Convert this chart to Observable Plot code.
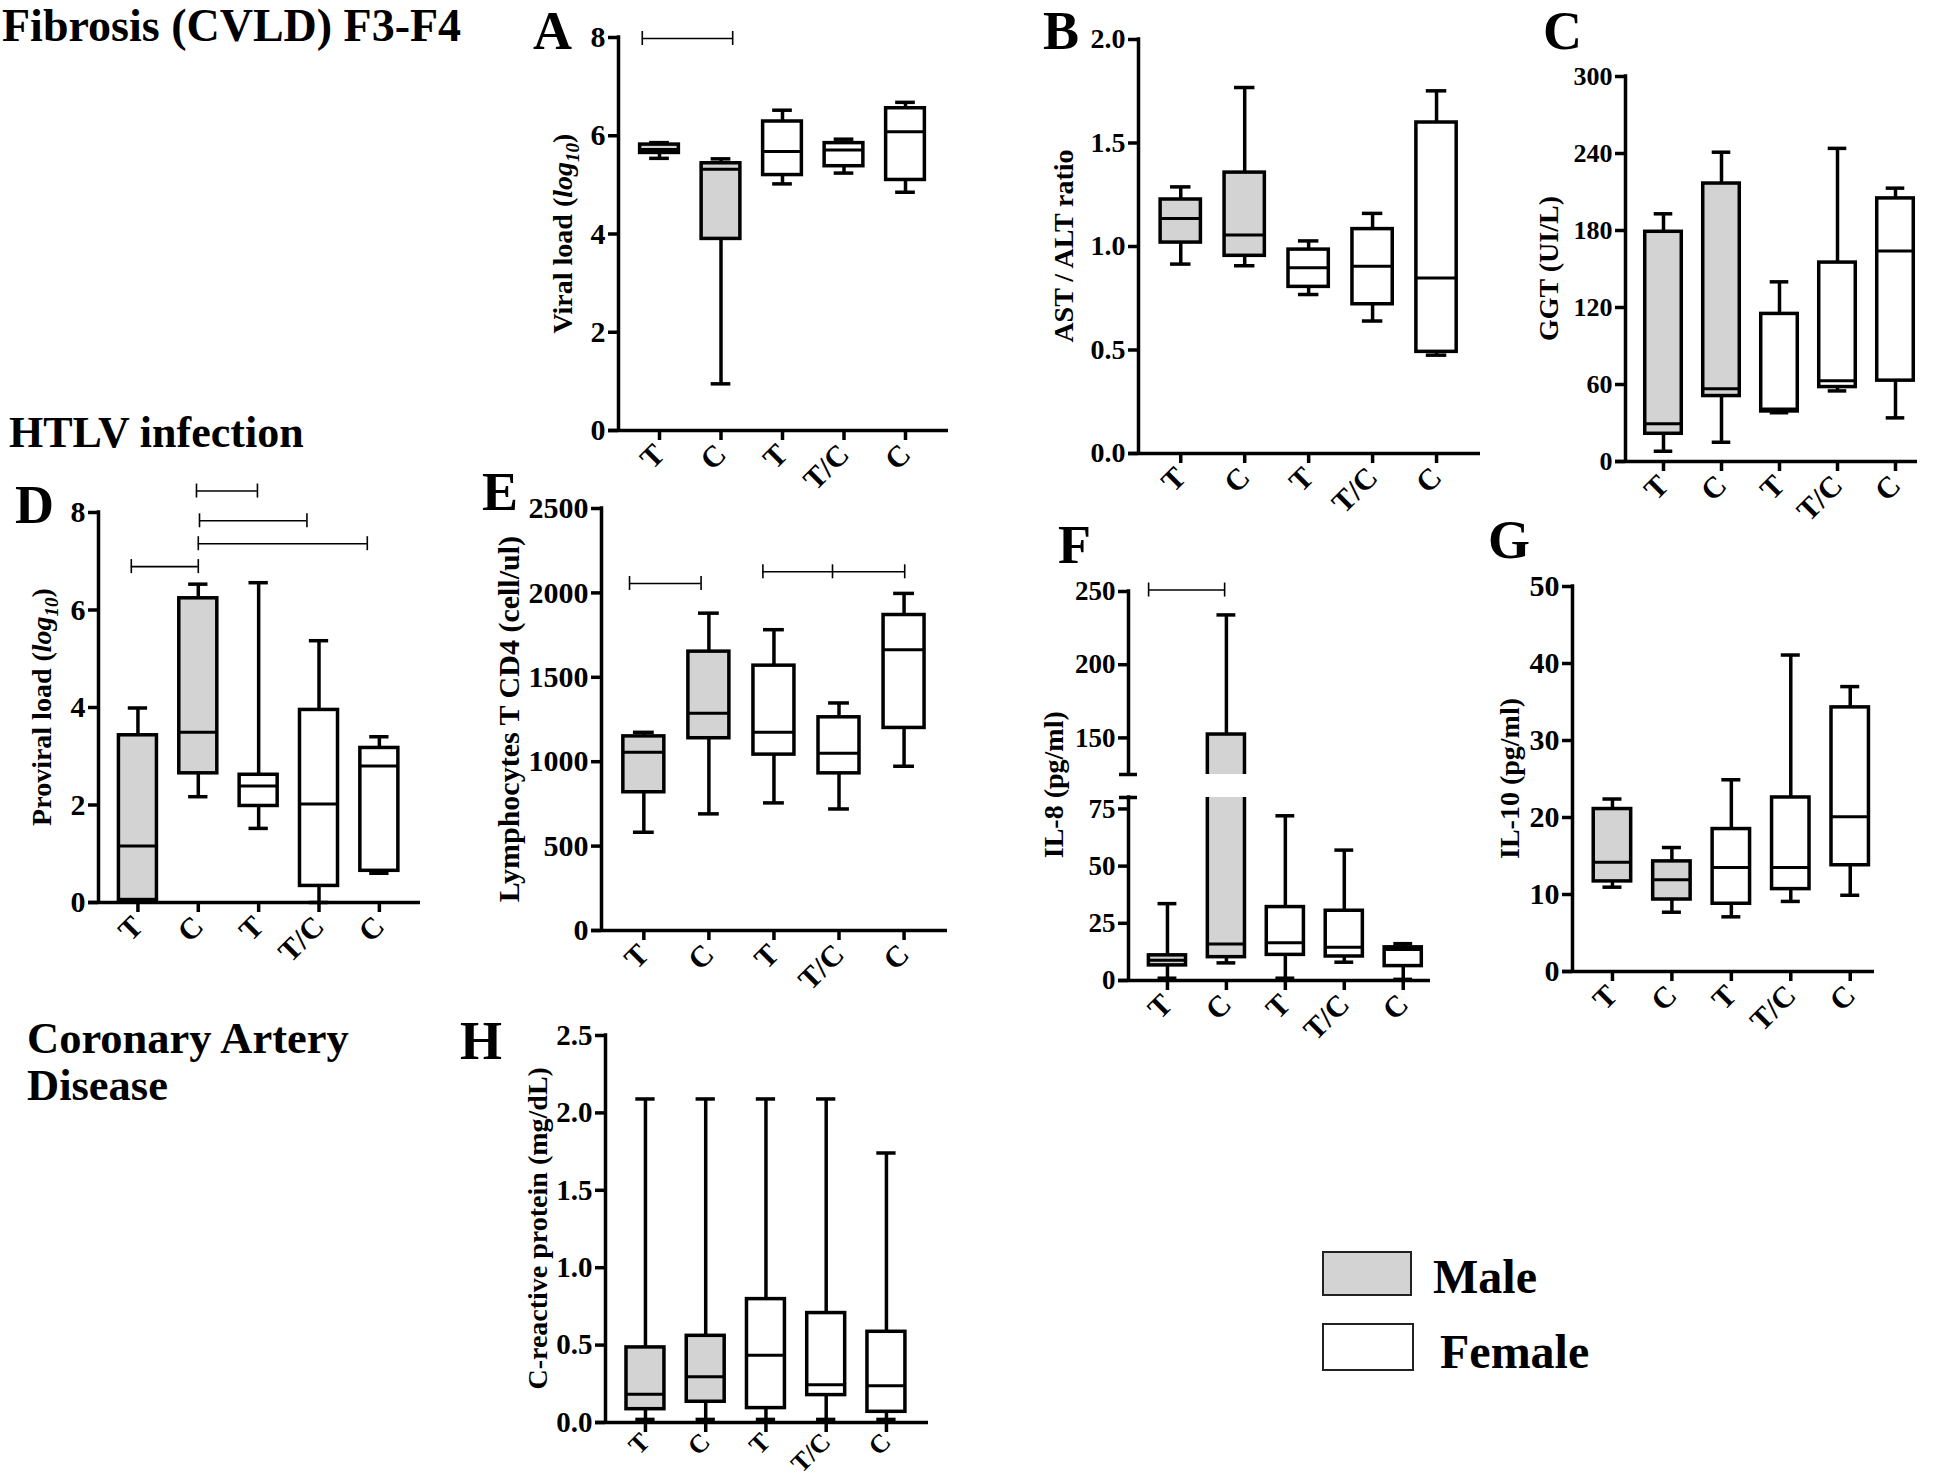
<!DOCTYPE html>
<html><head><meta charset="utf-8">
<script src="https://cdn.jsdelivr.net/npm/d3@7"></script>
<script src="https://cdn.jsdelivr.net/npm/@observablehq/plot@0.6"></script>
<style>
body{margin:0;background:#fff;}
#page{position:relative;width:1946px;height:1480px;overflow:hidden;background:#fff;}
.panel{position:absolute;}
</style></head><body><div id="page"></div>
<script>
// ---------- data ----------
const groups = ["T", "C", "T", "T/C", "C"];
const sexes = ["Male", "Male", "Female", "Female", "Female"];
// each row: [min, q1, median, q3, max]
const viralLoad = [[5.54,5.65,5.72,5.82,5.86],[0.95,3.9,5.32,5.44,5.53],[5.02,5.2,5.68,6.29,6.52],[5.24,5.38,5.71,5.85,5.93],[4.85,5.1,6.08,6.56,6.68]];
const astAlt = [[0.915,1.019,1.135,1.227,1.288],[0.907,0.955,1.055,1.357,1.768],[0.768,0.805,0.897,0.985,1.027],[0.64,0.721,0.905,1.084,1.16],[0.475,0.491,0.848,1.599,1.752]];
const ggt = [[8,21.6,29.4,179,193],[15,51,56.6,216.6,241],[38,39,41,115,140],[55,58,63,155,244],[34,63,164,205,213]];
const proviral = [[0.03,0.05,1.16,3.43,3.99],[2.17,2.65,3.49,6.24,6.53],[1.52,1.98,2.39,2.62,6.56],[0,0.34,2.02,3.95,5.37],[0.6,0.65,2.8,3.17,3.4]];
const cd4 = [[582,819,1056,1150,1174],[691,1139,1287,1652,1880],[756,1042,1174,1569,1782],[720,931,1050,1263,1348],[973,1200,1663,1869,1997]];
const il8 = [[1,6.6,8.8,11,33.6],[7.7,10.2,16,152.3,234],[1,11.2,16.5,32.1,72],[8,10.5,14.5,30.5,57],[0.5,6.3,13.5,14.5,16.1]];
const il10 = [[10.95,11.7,14.2,21.1,22.4],[7.7,9.35,11.9,14.3,16.1],[7.1,8.8,13.5,18.5,24.9],[9.1,10.7,13.5,22.6,41.1],[9.9,13.8,20.1,34.3,37]];
const crp = [[0.02,0.086,0.183,0.485,2.09],[0.02,0.134,0.295,0.56,2.09],[0.02,0.093,0.435,0.797,2.09],[0.02,0.177,0.244,0.707,2.09],[0.02,0.069,0.237,0.586,1.741]];
// significance bars: [from position, to position, value, ...inner ticks]
const viralLoadSig = [[0.72, 2.19, 7.98]];
const proviralSig = [[1.97, 2.98, 8.44], [2.02, 3.80, 7.83], [2.0, 4.80, 7.36], [0.89, 2.0, 6.89]];
const cd4Sig = [[0.78, 1.88, 2056], [2.83, 5.01, 2125, 3.9]];
const il8Sig = [[0.68, 1.97, 251]];
const legendItems = ["Male", "Female"];

// ---------- drawing ----------
const FONT = '"Liberation Serif", "Times New Roman", serif';
const page = document.getElementById("page");

function place(node, left, top, w) {
  const div = document.createElement("div");
  div.className = "panel";
  div.style.left = left + "px";
  div.style.top = top + "px";
  div.style.width = w + "px";
  div.appendChild(node);
  page.appendChild(div);
}

function boxPanel(cfg) {
  const mL = 130, mR = 14, mT = 60, mB = 90;
  const xDom = [1 + (cfg.left - cfg.first) / cfg.step, 1 + (cfg.right - cfg.first) / cfg.step];
  const width = Math.round(cfg.right - cfg.left + mL + mR);
  const height = Math.round(cfg.bottom - cfg.top + mT + mB);
  const rows = cfg.values.map((v, i) => ({pos: i + 1, group: groups[i], sex: sexes[i], lo: v[0], q1: v[1], med: v[2], q3: v[3], hi: v[4]}));
  const bw = 0.315, cw = 0.16, sw = 3.5;
  const clip = !!cfg.clip;
  const sig = cfg.sig || [];
  const sigRows = sig.map(s => ({x1: s[0], x2: s[1], y: s[2]}));
  const sigEnds = sig.flatMap(s => [s[0], s[1], ...s.slice(3)].map(x => ({x, y: s[2]})));
  const marks = [
    Plot.ruleX(rows, {x: "pos", y1: "q3", y2: "hi", strokeWidth: sw, clip}),
    Plot.ruleX(rows, {x: "pos", y1: "lo", y2: "q1", strokeWidth: sw, clip}),
    Plot.ruleY(rows, {y: "hi", x1: d => d.pos - cw, x2: d => d.pos + cw, strokeWidth: sw, clip}),
    Plot.ruleY(rows, {y: "lo", x1: d => d.pos - cw, x2: d => d.pos + cw, strokeWidth: sw, clip}),
    Plot.rect(rows, {x1: d => d.pos - bw, x2: d => d.pos + bw, y1: "q1", y2: "q3", fill: "sex", stroke: "black", strokeWidth: sw, clip}),
    Plot.ruleY(rows, {y: "med", x1: d => d.pos - bw, x2: d => d.pos + bw, strokeWidth: 3, clip}),
    Plot.ruleX([xDom[0]], {strokeWidth: sw, strokeLinecap: "square"}),
    Plot.axisY({ticks: cfg.yTicks, tickFormat: cfg.fmt, tickSize: 10, tickPadding: 3, strokeWidth: sw, label: null, fontSize: cfg.tickSize || 29})
  ];
  (cfg.breakAt || []).forEach(b => marks.push(
    Plot.ruleY([b], {x1: xDom[0], x2: xDom[0], insetLeft: -9, insetRight: -9, strokeWidth: sw})
  ));
  if (cfg.xAxis !== false) marks.push(
    Plot.ruleY([cfg.yDomain[0]], {x1: xDom[0], x2: xDom[1], insetLeft: -10, strokeWidth: sw}),
    Plot.axisX({ticks: rows.map(d => d.pos), tickSize: 10, strokeWidth: sw, fill: "none", label: null}),
    Plot.text(rows, {x: "pos", text: "group", frameAnchor: "bottom", rotate: -45, textAnchor: "end", lineAnchor: "middle",
      dy: cfg.xLabelDy || 19, fontSize: cfg.xLabelSize || 30})
  );
  if (sigRows.length) marks.push(
    Plot.ruleY(sigRows, {y: "y", x1: "x1", x2: "x2", strokeWidth: 1.6}),
    Plot.ruleX(sigEnds, {x: "x", y1: "y", y2: "y", insetTop: -7, insetBottom: -7, strokeWidth: 1.6})
  );
  const svg = Plot.plot({
    width, height,
    marginLeft: mL, marginRight: mR, marginTop: mT, marginBottom: mB,
    x: {domain: xDom, axis: cfg.xAxis === false ? null : undefined, label: null},
    y: {domain: cfg.yDomain, label: null},
    color: {domain: legendItems, range: ["#d3d3d3", "#ffffff"]},
    style: {fontFamily: FONT, fontWeight: "bold", fontSize: "28px", background: "transparent", overflow: "visible", maxWidth: "none", color: "black"},
    marks
  });
  if (cfg.label) {
    const ly = cfg.labelCenter != null ? cfg.labelCenter - (cfg.top - mT) : mT + (cfg.bottom - cfg.top) / 2;
    const t = d3.select(svg).append("text")
      .attr("transform", `translate(${mL - cfg.labelOffset},${ly}) rotate(-90)`)
      .attr("text-anchor", "middle").attr("dy", "0.35em").attr("fill", "black")
      .style("font-family", FONT).style("font-weight", "bold").style("font-size", (cfg.labelSize || 28) + "px");
    t.append("tspan").text(cfg.label);
    if (cfg.log) {
      t.append("tspan").style("font-style", "italic").text("log");
      t.append("tspan").attr("dy", 7).style("font-style", "italic").style("font-size", "19px").text("10");
      t.append("tspan").attr("dy", -7).text(")");
    }
  }
  place(svg, Math.round(cfg.left - mL), Math.round(cfg.top - mT), width);
}

const d1 = d3.format(".1f"), d0 = d3.format("d");
boxPanel({values: viralLoad, left: 618, right: 948, first: 659, step: 61.5, top: 36.7, bottom: 430, tickSize: 30,
  yDomain: [0, 8], yTicks: [0, 2, 4, 6, 8], fmt: d0, label: "Viral load (", log: true, labelOffset: 56, sig: viralLoadSig});
boxPanel({values: astAlt, left: 1137.7, right: 1480, first: 1180, step: 64, top: 39.3, bottom: 453.3, tickSize: 28,
  yDomain: [0, 2], yTicks: [0, 0.5, 1, 1.5, 2], fmt: d1, label: "AST / ALT ratio", labelOffset: 75});
boxPanel({values: ggt, left: 1625, right: 1917, first: 1663, step: 58, top: 76, bottom: 461, tickSize: 26,
  yDomain: [0, 300], yTicks: [0, 60, 120, 180, 240, 300], fmt: d0, label: "GGT (UI/L)", labelOffset: 77});
boxPanel({values: proviral, left: 98.3, right: 420, first: 137.7, step: 60.3, top: 511.7, bottom: 901.7, tickSize: 30,
  yDomain: [0, 8], yTicks: [0, 2, 4, 6, 8], fmt: d0, label: "Proviral load (", log: true, labelOffset: 57, sig: proviralSig});
boxPanel({values: cd4, left: 601, right: 946.7, first: 643.3, step: 65, top: 507.7, bottom: 930, tickSize: 30,
  yDomain: [0, 2500], yTicks: [0, 500, 1000, 1500, 2000, 2500], fmt: d0, label: "Lymphocytes T CD4 (cell/ul)", labelOffset: 93, labelSize: 30, sig: cd4Sig});
boxPanel({values: il8, left: 1127.7, right: 1430, first: 1166.7, step: 59, top: 590.7, bottom: 773.3, tickSize: 27,
  yDomain: [125, 250], yTicks: [150, 200, 250], fmt: d0, xAxis: false, clip: true, breakAt: [125], sig: il8Sig});
boxPanel({values: il8, left: 1127.7, right: 1430, first: 1166.7, step: 59, top: 797.3, bottom: 980, tickSize: 27,
  yDomain: [0, 80], yTicks: [0, 25, 50, 75], fmt: d0, clip: true, breakAt: [80], label: "IL-8 (pg/ml)", labelOffset: 75, labelCenter: 785});
boxPanel({values: il10, left: 1571.7, right: 1874, first: 1611.7, step: 59.5, top: 586, bottom: 971, tickSize: 30,
  yDomain: [0, 50], yTicks: [0, 10, 20, 30, 40, 50], fmt: d0, label: "IL-10 (pg/ml)", labelOffset: 63});
boxPanel({values: crp, left: 605, right: 928.3, first: 645, step: 60.3, top: 1035, bottom: 1421.7, tickSize: 29,
  yDomain: [0, 2.5], yTicks: [0, 0.5, 1, 1.5, 2, 2.5], fmt: d1, label: "C-reactive protein (mg/dL)", labelOffset: 68,
  xLabelSize: 26, xLabelDy: 15});

// ---------- titles, panel letters, legend ----------
const over = d3.create("svg").attr("width", 1946).attr("height", 1480)
  .style("position", "absolute").style("left", "0px").style("top", "0px").style("pointer-events", "none")
  .style("font-family", FONT).style("font-weight", "bold");
const titles = [["Fibrosis (CVLD) F3-F4", 2, 41, 46], ["HTLV infection", 9, 447, 44], ["Coronary Artery", 27, 1053, 44.5], ["Disease", 27, 1100, 44.5]];
titles.forEach(([t, x, y, s]) => over.append("text").attr("x", x).attr("y", y).style("font-size", s + "px").text(t));
const letters = [["A", 533, 49], ["B", 1043, 49], ["C", 1543, 49], ["D", 15, 523], ["E", 482, 510], ["F", 1058, 563], ["G", 1488, 558], ["H", 460, 1059]];
letters.forEach(([t, x, y]) => over.append("text").attr("x", x).attr("y", y).style("font-size", "54px").text(t));
const legendPos = [[1323, 1252, 88, 43, 1433, 1293, "#d3d3d3"], [1323, 1324, 90, 46, 1440, 1368, "#ffffff"]];
legendItems.forEach((name, i) => {
  const [rx, ry, rw, rh, tx, ty, fill] = legendPos[i];
  over.append("rect").attr("x", rx).attr("y", ry).attr("width", rw).attr("height", rh).attr("fill", fill).attr("stroke", "#222").attr("stroke-width", 2);
  over.append("text").attr("x", tx).attr("y", ty).style("font-size", "48px").text(name);
});
page.insertBefore(over.node(), page.firstChild);
</script></body></html>
